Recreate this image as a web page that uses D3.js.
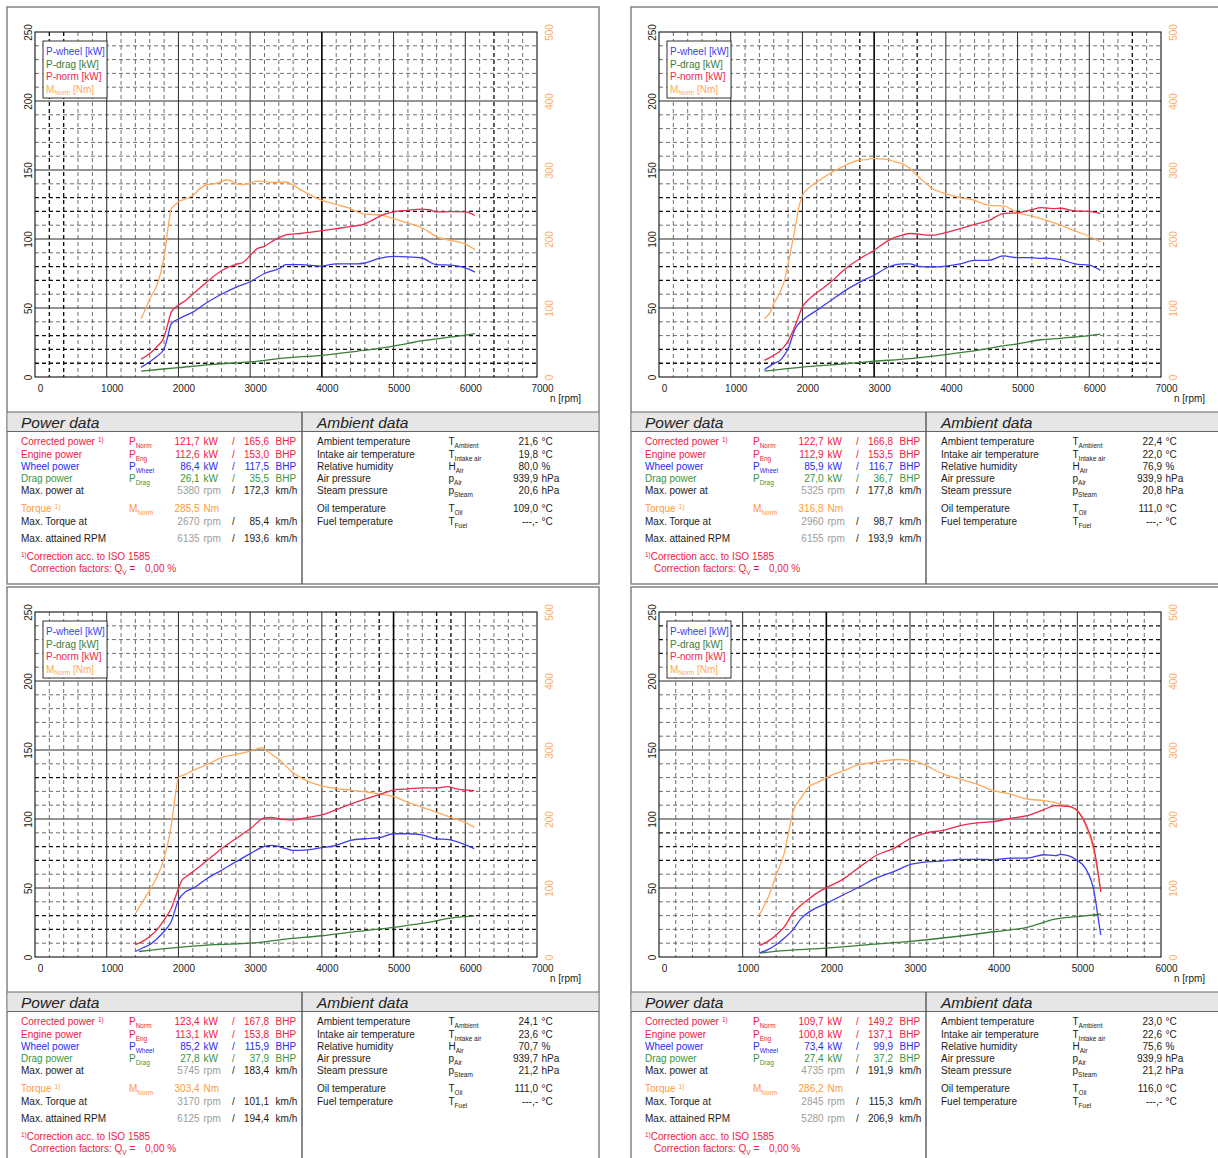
<!DOCTYPE html>
<html>
<head>
<meta charset="utf-8">
<script src="https://cdn.jsdelivr.net/npm/d3@7"></script>
<style>
  html, body { margin: 0; padding: 0; background: #fff; }
  svg { display: block; font-family: "Liberation Sans", Arial, sans-serif; }
</style>
</head>
<body>
<svg id="sheet" width="1218" height="1158"></svg>
<script>
// ---------- Dyno run 1 (upper left) ----------
const tlNorm = [[1480,13],[1600,17],[1700,22],[1800,29],[1850,38],[1900,47],[2000,52],[2100,55.5],[2200,60],[2400,69],[2600,77],[2800,81.6],[2900,83],[3000,88],[3100,93],[3200,94.7],[3300,98],[3400,101],[3500,103],[3700,104],[4000,106],[4200,107.5],[4400,109],[4600,111],[4700,113.5],[4800,116.4],[5000,119.6],[5200,120.8],[5380,121.7],[5500,121.2],[5600,119.6],[5800,119.8],[6000,119.6],[6135,117]];
const tlWheel = [[1480,7],[1600,11],[1700,15],[1800,20.5],[1850,29],[1900,38.6],[2000,42],[2200,47],[2400,54],[2600,60],[2800,65],[3000,69],[3200,75],[3400,78.5],[3500,81.4],[3700,81.4],[4000,80.4],[4200,82],[4500,82],[4600,82.6],[4800,86],[5000,87.4],[5200,87],[5380,86.4],[5600,81.4],[5800,81],[6000,79],[6135,76]];
const tlDrag = [[1480,4.3],[2000,6.8],[2500,9.2],[3000,10.9],[3500,13.8],[4000,15.7],[4500,18.8],[4800,20.8],[5000,22.4],[5200,24.3],[5380,26.1],[5600,27.6],[5800,29],[6000,30.3],[6135,31.4]];
const tlTorque = [[1480,84.5],[1550,101],[1600,113],[1700,133],[1750,150],[1800,174],[1850,212],[1900,244],[1950,249],[2000,254],[2100,258],[2200,263],[2300,273],[2400,279],[2500,280],[2600,283.6],[2670,285.5],[2750,283.6],[2800,280],[2900,279],[3000,281],[3100,284],[3200,283.6],[3300,282],[3500,282.6],[3600,278],[3700,271.5],[3800,266],[4000,256],[4200,250],[4400,244],[4500,239],[4600,236],[4800,235],[5000,229.5],[5200,223],[5400,216],[5500,210],[5600,203],[5800,198],[6000,193],[6135,184.5]];
const tlPower = ["121,7","165,6","112,6","153,0","86,4","117,5","26,1","35,5","5380","172,3","285,5","2670","85,4","6135","193,6"];
const tlAmbient = ["21,6","19,8","80,0","939,9","20,6","109,0","---,-"];

// ---------- Dyno run 2 (upper right) ----------
const trNorm = [[1470,12],[1600,15.7],[1700,19.3],[1800,26],[1900,37.4],[2000,50.7],[2100,56.8],[2200,61],[2400,69],[2600,78.5],[2800,85.7],[3000,91.8],[3200,99],[3400,103],[3500,104],[3800,102.7],[4000,104.6],[4200,107.5],[4400,110.6],[4600,113.5],[4800,118.4],[5000,119],[5200,121.3],[5325,122.7],[5500,122],[5600,122.3],[5800,120.3],[6000,120],[6155,118.4]];
const trWheel = [[1470,5.3],[1600,9.7],[1700,12.6],[1800,20.5],[1900,35],[2000,41],[2200,48.3],[2400,55.6],[2600,62.8],[2800,68.8],[3000,73.7],[3200,79.7],[3400,82],[3500,82],[3600,80.4],[3800,79.7],[4000,80.4],[4200,82],[4400,84.5],[4600,84.5],[4800,87.7],[5000,86.5],[5200,86.5],[5325,85.9],[5400,86.2],[5600,85],[5800,82],[6000,81],[6155,77.3]];
const trDrag = [[1470,4.3],[2000,7.2],[2500,9.2],[3000,11.4],[3500,13.3],[4000,16.2],[4500,19.8],[4800,22.5],[5000,24],[5325,27],[5600,28],[5800,29],[6000,30],[6155,31]];
const trTorque = [[1470,84.5],[1550,94],[1600,106],[1700,125.6],[1750,140],[1800,164],[1900,217],[1950,246],[2000,263],[2100,275],[2200,282.6],[2400,296],[2600,306.8],[2800,314.5],[2900,315],[2960,316.8],[3100,316],[3200,315],[3300,311.6],[3400,309],[3500,302],[3600,292],[3700,282.6],[3800,274],[4000,265.7],[4200,260],[4400,256],[4500,252],[4600,248.8],[4800,248],[4900,244],[5000,238],[5200,233],[5400,227],[5600,220],[5800,211.6],[6000,204],[6155,195.7]];
const trPower = ["122,7","166,8","112,9","153,5","85,9","116,7","27,0","36,7","5325","177,8","316,8","2960","98,7","6155","193,9"];
const trAmbient = ["22,4","22,0","76,9","939,9","20,8","111,0","---,-"];

// ---------- Dyno run 3 (lower left) ----------
const blNorm = [[1400,8.9],[1500,11.3],[1600,14.9],[1700,19.7],[1800,26.9],[1900,35.3],[2000,49.7],[2050,55.7],[2100,58],[2200,61.7],[2400,70],[2600,78.5],[2800,85.7],[3000,92.9],[3200,100.8],[3300,101.2],[3400,100],[3500,99.6],[3600,99.3],[3800,101.2],[4000,103],[4200,106.8],[4400,110.8],[4600,114.4],[4800,117.6],[5000,121],[5200,121.8],[5400,122.6],[5600,122.4],[5745,123.4],[5900,121.6],[6125,120.5]];
const blWheel = [[1400,4],[1500,6.5],[1600,8.9],[1700,13.2],[1800,18.5],[1900,25.7],[2000,41.3],[2100,47.3],[2200,49.7],[2400,56.9],[2600,62.9],[2800,68.9],[3000,74.9],[3200,80.1],[3300,80.9],[3500,78.5],[3600,77.3],[3800,77.7],[4000,79.2],[4200,80.9],[4400,84.5],[4600,85.7],[4800,86.4],[5000,89.3],[5200,89.3],[5400,88.5],[5600,85.5],[5745,85.2],[5900,83.3],[6125,78.5]];
const blDrag = [[1450,4],[2000,7],[2500,8.9],[3000,10],[3500,13],[4000,15.4],[4500,18.5],[5000,21.5],[5500,25.2],[5745,27.8],[6125,29.8]];
const blTorque = [[1400,63],[1500,80],[1600,97],[1700,116],[1800,142.5],[1900,190.5],[1950,229],[2000,260],[2100,265],[2200,270],[2400,279],[2600,289],[2800,293.6],[2900,296],[3000,298.5],[3170,303.4],[3200,301],[3400,286.5],[3600,267],[3800,255],[4000,248],[4200,244],[4400,242],[4600,239.5],[4800,236],[5000,232.7],[5200,224],[5400,217],[5600,209.7],[5800,202.5],[6000,195],[6125,188]];
const blPower = ["123,4","167,8","113,1","153,8","85,2","115,9","27,8","37,9","5745","183,4","303,4","3170","101,1","6125","194,4"];
const blAmbient = ["24,1","23,6","70,7","939,7","21,2","111,0","---,-"];

// ---------- Dyno run 4 (lower right) ----------
const brNorm = [[1200,8.4],[1300,11.3],[1400,16],[1500,22],[1600,31.7],[1700,37.7],[1800,42.5],[1900,46.8],[2000,50.1],[2200,56.4],[2400,65.3],[2600,73.7],[2800,78.5],[3000,85.7],[3200,90],[3400,91.7],[3600,95.2],[3800,97.2],[4000,98.1],[4200,100.5],[4400,102.4],[4600,106.8],[4735,109.7],[4800,109.5],[4900,109.2],[5000,106],[5100,96.4],[5200,78.5],[5280,47.3]];
const brWheel = [[1200,2.9],[1300,5.3],[1400,8.9],[1500,13.7],[1600,19.7],[1700,28],[1800,32.9],[2000,38.9],[2200,44.9],[2400,50.9],[2600,57.3],[2800,61.7],[3000,66.9],[3200,68.9],[3400,69.6],[3600,70.8],[3800,70.8],[4000,70.5],[4200,71.7],[4400,71.7],[4600,74.1],[4735,73.4],[4800,74.4],[4900,73.2],[5000,70],[5100,64],[5200,47.3],[5250,28],[5280,16]];
const brDrag = [[1200,2.9],[1500,4.6],[2000,6.5],[2500,8.9],[3000,11.3],[3500,14.5],[4000,18.3],[4400,21.5],[4735,27.4],[5000,29.3],[5280,31]];
const brTorque = [[1200,61],[1300,85],[1400,118.5],[1500,152],[1550,181],[1600,209.7],[1700,231],[1800,248],[1900,253],[2000,260],[2200,269.7],[2400,279],[2600,282.6],[2845,286.2],[3000,285],[3100,282.6],[3200,277],[3400,265],[3600,257.7],[3800,250.5],[4000,241],[4200,236],[4400,229],[4600,226.5],[4800,221.7],[4900,218],[5000,212],[5100,190.5],[5200,152],[5280,94.5]];
const brPower = ["109,7","149,2","100,8","137,1","73,4","99,9","27,4","37,2","4735","191,9","286,2","2845","115,3","5280","206,9"];
const brAmbient = ["23,0","22,6","75,6","939,9","21,2","116,0","---,-"];

// Axis tick values
const kwTicks = [0, 50, 100, 150, 200, 250];
const nmTicks = [0, 100, 200, 300, 400, 500];

// Colours
const C = {
  red: "#f0203f", blue: "#2a2aee", green: "#3a963a", orange: "#ff9a3c",
  grey: "#9c9c9c", ink: "#1c1c1c",
  lineBlue: "#3d3df5", lineRed: "#ec2a4c", lineGreen: "#3a7e3a", lineOrange: "#ffaa5a"
};

const svg = d3.select("#sheet");
const PW = 592, PH = 577;

function subText(g, x, y, main, sub, color, anchor) {
  const t = g.append("text").attr("x", x).attr("y", y).attr("fill", color)
    .attr("font-size", 10).attr("text-anchor", anchor || "start");
  t.append("tspan").text(main);
  t.append("tspan").attr("font-size", 6.5).attr("dy", 3).text(sub);
  return t;
}
function txt(g, x, y, s, color, anchor, size) {
  return g.append("text").attr("x", x).attr("y", y).attr("fill", color)
    .attr("font-size", size || 10).attr("text-anchor", anchor || "start").text(s);
}

function drawPanel(p) {
  const g = svg.append("g").attr("transform", `translate(${p.ox},${p.oy})`);

  // sheet border
  g.append("rect").attr("x", 0).attr("y", 0).attr("width", PW).attr("height", PH)
    .attr("fill", "#fff").attr("stroke", "#7a7a7a").attr("stroke-width", 1.4);

  // ---- chart ----
  const L = 28, T = 25, R = L + 502, B = T + 345;
  const x = d3.scaleLinear().domain([0, p.xMax]).range([L, R]);
  const y = d3.scaleLinear().domain([0, 250]).range([B, T]);
  const yR = d3.scaleLinear().domain([0, 500]).range([B, T]);

  const grid = g.append("g").attr("fill", "none");
  d3.range(10, 250, 10).forEach(v => {
    const major = v % 50 === 0, bold = p.boldH.includes(v);
    grid.append("line").attr("x1", L).attr("x2", R).attr("y1", y(v)).attr("y2", y(v))
      .attr("stroke", major ? "#2a2a2a" : bold ? "#111" : "#4a4a4a")
      .attr("stroke-width", major ? 1 : bold ? 1.35 : 0.8)
      .attr("stroke-dasharray", major ? null : "4,3");
  });
  d3.range(200, p.xMax, 200).forEach(r => {
    const major = r % 1000 === 0, heavy = p.heavyV.includes(r), bold = p.boldV.includes(r);
    grid.append("line").attr("x1", x(r)).attr("x2", x(r)).attr("y1", T).attr("y2", B)
      .attr("stroke", heavy ? "#000" : major ? "#2a2a2a" : bold ? "#111" : "#4a4a4a")
      .attr("stroke-width", heavy ? 1.6 : major ? 1 : bold ? 1.35 : 0.8)
      .attr("stroke-dasharray", major ? null : "4,3");
  });
  g.append("rect").attr("x", L).attr("y", T).attr("width", R - L).attr("height", B - T)
    .attr("fill", "none").attr("stroke", "#111").attr("stroke-width", 1.1);

  // axes
  const fam = "Liberation Sans, Arial, sans-serif";
  const ax = g.append("g").attr("transform", `translate(0,${B})`)
    .call(d3.axisBottom(x).tickValues(d3.range(0, p.xMax + 1, 1000)).tickSize(0).tickFormat(d3.format("d")));
  ax.attr("font-family", fam).attr("font-size", 10);
  ax.select(".domain").remove();
  ax.selectAll("text").attr("y", 15).attr("dy", 0).attr("dx", 5).attr("fill", "#222");

  const ayL = g.append("g").attr("transform", `translate(${L},0)`)
    .call(d3.axisLeft(y).tickValues(kwTicks).tickSize(0));
  ayL.attr("font-family", fam).attr("font-size", 10);
  ayL.select(".domain").remove();
  ayL.selectAll("text").attr("x", 0).attr("dy", 0).attr("text-anchor", "middle")
    .attr("transform", "translate(-2.7,0) rotate(-90)").attr("fill", "#222");

  const ayR = g.append("g").attr("transform", `translate(${R},0)`)
    .call(d3.axisRight(yR).tickValues(nmTicks).tickSize(0));
  ayR.attr("font-family", fam).attr("font-size", 10);
  ayR.select(".domain").remove();
  ayR.selectAll("text").attr("x", 0).attr("dy", 0).attr("text-anchor", "middle")
    .attr("transform", "translate(16,0) rotate(-90)").attr("fill", "#ffab5c");

  txt(g, R + 13, B + 24.5, "n [rpm]", "#222");

  // curves
  const lineKW = d3.line().x(d => x(d[0])).y(d => y(d[1])).curve(d3.curveMonotoneX);
  const lineNm = d3.line().x(d => x(d[0])).y(d => yR(d[1])).curve(d3.curveMonotoneX);
  const curves = g.append("g").attr("fill", "none").attr("stroke-width", 1.3).attr("stroke-linejoin", "round");
  curves.append("path").attr("d", lineKW(p.drag)).attr("stroke", C.lineGreen);
  curves.append("path").attr("d", lineNm(p.torque)).attr("stroke", C.lineOrange);
  curves.append("path").attr("d", lineKW(p.wheel)).attr("stroke", C.lineBlue);
  curves.append("path").attr("d", lineKW(p.norm)).attr("stroke", C.lineRed);

  // legend
  const lg = g.append("g");
  lg.append("rect").attr("x", 36).attr("y", 34).attr("width", 64).attr("height", 57)
    .attr("fill", "#fff").attr("stroke", "#333").attr("stroke-width", 1);
  txt(lg, 39, 48.2, "P-wheel [kW]", C.lineBlue);
  txt(lg, 39, 60.5, "P-drag [kW]", C.lineGreen);
  txt(lg, 39, 73.2, "P-norm [kW]", C.lineRed);
  const mt = lg.append("text").attr("x", 39).attr("y", 85.8).attr("fill", C.lineOrange).attr("font-size", 10);
  mt.append("tspan").text("M");
  mt.append("tspan").attr("font-size", 6.5).attr("dy", 2.5).text("Norm");
  mt.append("tspan").attr("dy", -2.5).text(" [Nm]");

  // ---- data tables ----
  const hy = 405, hh = 19.5;
  g.append("rect").attr("x", 0.7).attr("y", hy).attr("width", PW - 1.4).attr("height", hh).attr("fill", "#e6e6e6");
  g.append("line").attr("x1", 0).attr("x2", PW).attr("y1", hy).attr("y2", hy).attr("stroke", "#666").attr("stroke-width", 1.2);
  g.append("line").attr("x1", 0).attr("x2", PW).attr("y1", hy + hh).attr("y2", hy + hh).attr("stroke", "#666").attr("stroke-width", 1.2);
  g.append("line").attr("x1", 295).attr("x2", 295).attr("y1", hy).attr("y2", PH).attr("stroke", "#555").attr("stroke-width", 1.4);
  txt(g, 14, 420.5, "Power data", "#222", "start", 15.5).attr("font-style", "italic");
  txt(g, 310, 420.5, "Ambient data", "#222", "start", 15.5).attr("font-style", "italic");

  const ry = [434.7, 447, 459.7, 471.3, 483.7, 501.7, 514.3, 531.3, 549, 561.3].map(v => v + 3.6);
  const cL = 14, cS = 122, cV1 = 192.6, cU1 = 196.5, cSl = 226.5, cV2 = 262, cU2 = 268.6;
  const v = p.power;

  const powerRows = [
    ["Corrected power", "P", "Norm", v[0], "kW", v[1], "BHP", C.red, true],
    ["Engine power", "P", "Eng", v[2], "kW", v[3], "BHP", C.red, false],
    ["Wheel power", "P", "Wheel", v[4], "kW", v[5], "BHP", C.blue, false],
    ["Drag power", "P", "Drag", v[6], "kW", v[7], "BHP", C.green, false]
  ];
  powerRows.forEach((r, i) => {
    const t = txt(g, cL, ry[i], r[0], r[7]);
    if (r[8]) t.append("tspan").attr("font-size", 6.5).attr("dy", -3).attr("dx", 3).text("1)");
    subText(g, cS, ry[i], r[1], r[2], r[7]);
    txt(g, cV1, ry[i], r[3], r[7], "end");
    txt(g, cU1, ry[i], r[4], r[7]);
    txt(g, cSl, ry[i], "/", r[7], "middle");
    txt(g, cV2, ry[i], r[5], r[7], "end");
    txt(g, cU2, ry[i], r[6], r[7]);
  });
  const speedRow = (i, label, rpm, kmh) => {
    txt(g, cL, ry[i], label, C.ink);
    txt(g, cV1, ry[i], rpm, C.grey, "end");
    txt(g, cU1, ry[i], "rpm", C.grey);
    txt(g, cSl, ry[i], "/", C.ink, "middle");
    txt(g, cV2, ry[i], kmh, C.ink, "end");
    txt(g, cU2, ry[i], "km/h", C.ink);
  };
  speedRow(4, "Max. power at", v[8], v[9]);
  const tq = txt(g, cL, ry[5], "Torque", C.orange);
  tq.append("tspan").attr("font-size", 6.5).attr("dy", -3).attr("dx", 3).text("1)");
  subText(g, cS, ry[5], "M", "Norm", C.orange);
  txt(g, cV1, ry[5], v[10], C.orange, "end");
  txt(g, cU1, ry[5], "Nm", C.orange);
  speedRow(6, "Max. Torque at", v[11], v[12]);
  speedRow(7, "Max. attained RPM", v[13], v[14]);

  const c1 = g.append("text").attr("x", cL).attr("y", ry[8]).attr("fill", C.red).attr("font-size", 10);
  c1.append("tspan").attr("font-size", 6.5).attr("dy", -3).text("1)");
  c1.append("tspan").attr("dy", 3).text("Correction acc. to ISO 1585");
  const c2 = g.append("text").attr("x", 23).attr("y", ry[9]).attr("fill", C.red).attr("font-size", 10);
  c2.append("tspan").text("Correction factors: Q");
  c2.append("tspan").attr("font-size", 6.5).attr("dy", 3).text("V");
  c2.append("tspan").attr("dy", -3).text(" =");
  txt(g, 138, ry[9], "0,00 %", C.red);

  const a = p.ambient;
  const ambRows = [
    ["Ambient temperature", "T", "Ambient", a[0], "°C", 0],
    ["Intake air temperature", "T", "Intake air", a[1], "°C", 1],
    ["Relative humidity", "H", "Air", a[2], "%", 2],
    ["Air pressure", "p", "Air", a[3], "hPa", 3],
    ["Steam pressure", "p", "Steam", a[4], "hPa", 4],
    ["Oil temperature", "T", "Oil", a[5], "°C", 5],
    ["Fuel temperature", "T", "Fuel", a[6], "°C", 6]
  ];
  ambRows.forEach(r => {
    const yy = ry[r[5]];
    txt(g, 310, yy, r[0], C.ink);
    subText(g, 441.5, yy, r[1], r[2], C.ink);
    txt(g, 531, yy, r[3], C.ink, "end");
    txt(g, 534.5, yy, r[4], C.ink);
  });
}

drawPanel({ ox: 7, oy: 7, xMax: 7000, norm: tlNorm, wheel: tlWheel, drag: tlDrag, torque: tlTorque,
  power: tlPower, ambient: tlAmbient, boldH: [10, 20, 30, 70, 80, 120, 130], boldV: [200, 400, 6400], heavyV: [4000] });
drawPanel({ ox: 631, oy: 7, xMax: 7000, norm: trNorm, wheel: trWheel, drag: trDrag, torque: trTorque,
  power: trPower, ambient: trAmbient, boldH: [10, 20, 70, 80, 120, 130], boldV: [2800, 3600, 6600], heavyV: [3000] });
drawPanel({ ox: 7, oy: 587, xMax: 7000, norm: blNorm, wheel: blWheel, drag: blDrag, torque: blTorque,
  power: blPower, ambient: blAmbient, boldH: [20, 30, 70, 80, 130], boldV: [4200, 4800, 5600, 5800], heavyV: [5000] });
drawPanel({ ox: 631, oy: 587, xMax: 6000, norm: brNorm, wheel: brWheel, drag: brDrag, torque: brTorque,
  power: brPower, ambient: brAmbient, boldH: [70, 80, 90, 220, 230, 240], boldV: [], heavyV: [2000] });
</script>
</body>
</html>
